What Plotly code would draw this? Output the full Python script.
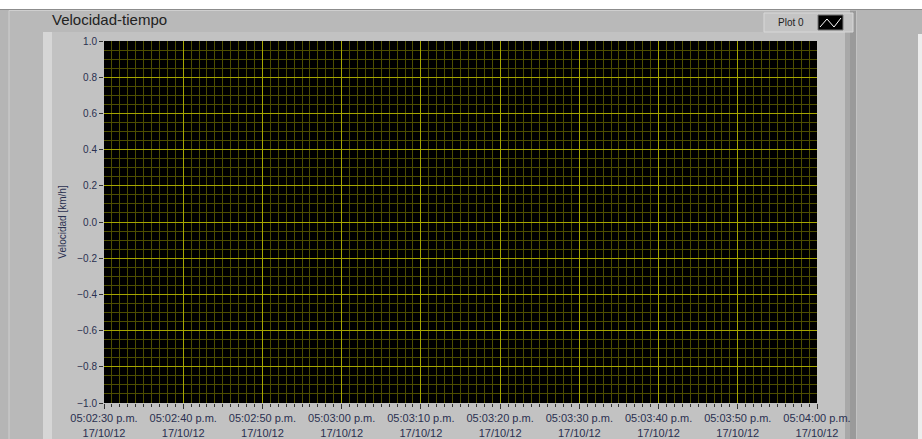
import plotly.graph_objects as go

# chart data (the chart in the capture has no samples yet)
tiempo_s = []
velocidad = []

tick_segundos = [0, 10, 20, 30, 40, 50, 60, 70, 80, 90]
tick_horas = ["05:02:30 p.m.", "05:02:40 p.m.", "05:02:50 p.m.", "05:03:00 p.m.",
              "05:03:10 p.m.", "05:03:20 p.m.", "05:03:30 p.m.", "05:03:40 p.m.",
              "05:03:50 p.m.", "05:04:00 p.m."]
fecha = "17/10/12"
y_ticks = [-1.0, -0.8, -0.6, -0.4, -0.2, 0.0, 0.2, 0.4, 0.6, 0.8, 1.0]

W, H = 922, 439
L, R, T, B = 104, 817, 41, 403


def px(x):
    return (x - L) / (R - L)


def py(y):
    return (B - y) / (B - T)


major = "#a6a600"
minor = "#4e4e00"
txt = "#2a3050"

fig = go.Figure()
fig.add_trace(go.Scatter(x=tiempo_s, y=velocidad, mode="lines", name="Plot 0",
                         line=dict(color="white", width=1), showlegend=False))

shapes = [
    # window background below the white top strip
    dict(type="rect", xref="paper", yref="paper", x0=px(-5), x1=px(930), y0=py(9.5), y1=py(445),
         fillcolor="#b5b5b5", line_width=0, layer="below"),
    dict(type="line", xref="paper", yref="paper", x0=px(-5), x1=px(930), y0=py(9.5), y1=py(9.5),
         line=dict(color="#8c8c8c", width=1), layer="below"),
    # outer chart frame
    dict(type="rect", xref="paper", yref="paper", x0=px(9), x1=px(856), y0=py(10.5), y1=py(445),
         fillcolor="#b9b9b9", line=dict(color="#cfcfcf", width=1), layer="below"),
    # inner panel
    dict(type="rect", xref="paper", yref="paper", x0=px(43), x1=px(850), y0=py(32), y1=py(445),
         fillcolor="#c2c2c2", line_width=0, layer="below"),
    dict(type="rect", xref="paper", yref="paper", x0=px(43), x1=px(52), y0=py(32), y1=py(445),
         fillcolor="#d6d6d6", line_width=0, layer="below"),
    dict(type="rect", xref="paper", yref="paper", x0=px(845), x1=px(850), y0=py(32), y1=py(445),
         fillcolor="#a8a8a8", line_width=0, layer="below"),
    dict(type="rect", xref="paper", yref="paper", x0=px(850), x1=px(856), y0=py(10.5), y1=py(445),
         fillcolor="#9a9a9a", line_width=0, layer="below"),
    # plot area background
    dict(type="rect", xref="paper", yref="paper", x0=0, x1=1, y0=0, y1=1,
         fillcolor="black", line_width=0, layer="below"),
    # right light strip
    dict(type="rect", xref="paper", yref="paper", x0=px(918), x1=px(930), y0=py(34), y1=py(445),
         fillcolor="#ededed", line_width=0, layer="below"),
    # legend box
    dict(type="rect", xref="paper", yref="paper", x0=px(764), x1=px(853), y0=py(13), y1=py(32),
         fillcolor="#c4c4c4", line=dict(color="#d8d8d8", width=1), layer="below"),
    dict(type="rect", xref="paper", yref="paper", x0=px(818), x1=px(843), y0=py(15), y1=py(30),
         fillcolor="black", line=dict(color="#777777", width=1)),
    dict(type="path", xref="paper", yref="paper",
         path="M %f,%f L %f,%f L %f,%f L %f,%f" % (px(820), py(27), px(827), py(19), px(834), py(27), px(841), py(18)),
         line=dict(color="white", width=1)),
]

annotations = [
    dict(text="Velocidad-tiempo", xref="paper", yref="paper", x=px(50), y=py(20),
         xanchor="left", yanchor="middle", showarrow=False,
         font=dict(family="Liberation Sans", size=15, color="#222222")),
    dict(text="Plot 0", xref="paper", yref="paper", x=px(776), y=py(22),
         xanchor="left", yanchor="middle", showarrow=False,
         font=dict(family="Liberation Sans", size=10, color="#222222")),
]

fig.update_layout(
    template="none",
    width=W, height=H,
    margin=dict(l=L, r=W - R, t=T, b=H - B, autoexpand=False),
    paper_bgcolor="white",
    plot_bgcolor="black",
    shapes=shapes,
    annotations=annotations,
    showlegend=False,
    font=dict(family="Liberation Sans", size=11, color=txt),
    xaxis=dict(
        range=[0, 90],
        automargin=False,
        tickvals=tick_segundos,
        ticktext=[h + "<br>" + fecha for h in tick_horas],
        showgrid=True, gridcolor=major, gridwidth=1,
        ticks="outside", ticklen=5, tickcolor="#333333",
        minor=dict(dtick=1, tick0=0, showgrid=True, gridcolor=minor, gridwidth=1,
                   ticks="outside", ticklen=3, tickcolor="#333333"),
        zeroline=False, showline=False,
        tickfont=dict(size=11, color=txt),
    ),
    yaxis=dict(
        range=[-1, 1],
        automargin=False,
        tickvals=y_ticks,
        tickformat=".1f",
        showgrid=True, gridcolor=major, gridwidth=1,
        ticks="outside", ticklen=4, tickcolor="#333333",
        minor=dict(dtick=0.05, tick0=0, showgrid=True, gridcolor=minor, gridwidth=1),
        zeroline=False, showline=False,
        title=dict(text="Velocidad [km/h]", standoff=8,
                   font=dict(size=10, color=txt)),
        tickfont=dict(size=10, color=txt),
    ),
)

fig.write_html("out.html", config={"displayModeBar": False},
               post_script="document.body.style.margin='0px';")
